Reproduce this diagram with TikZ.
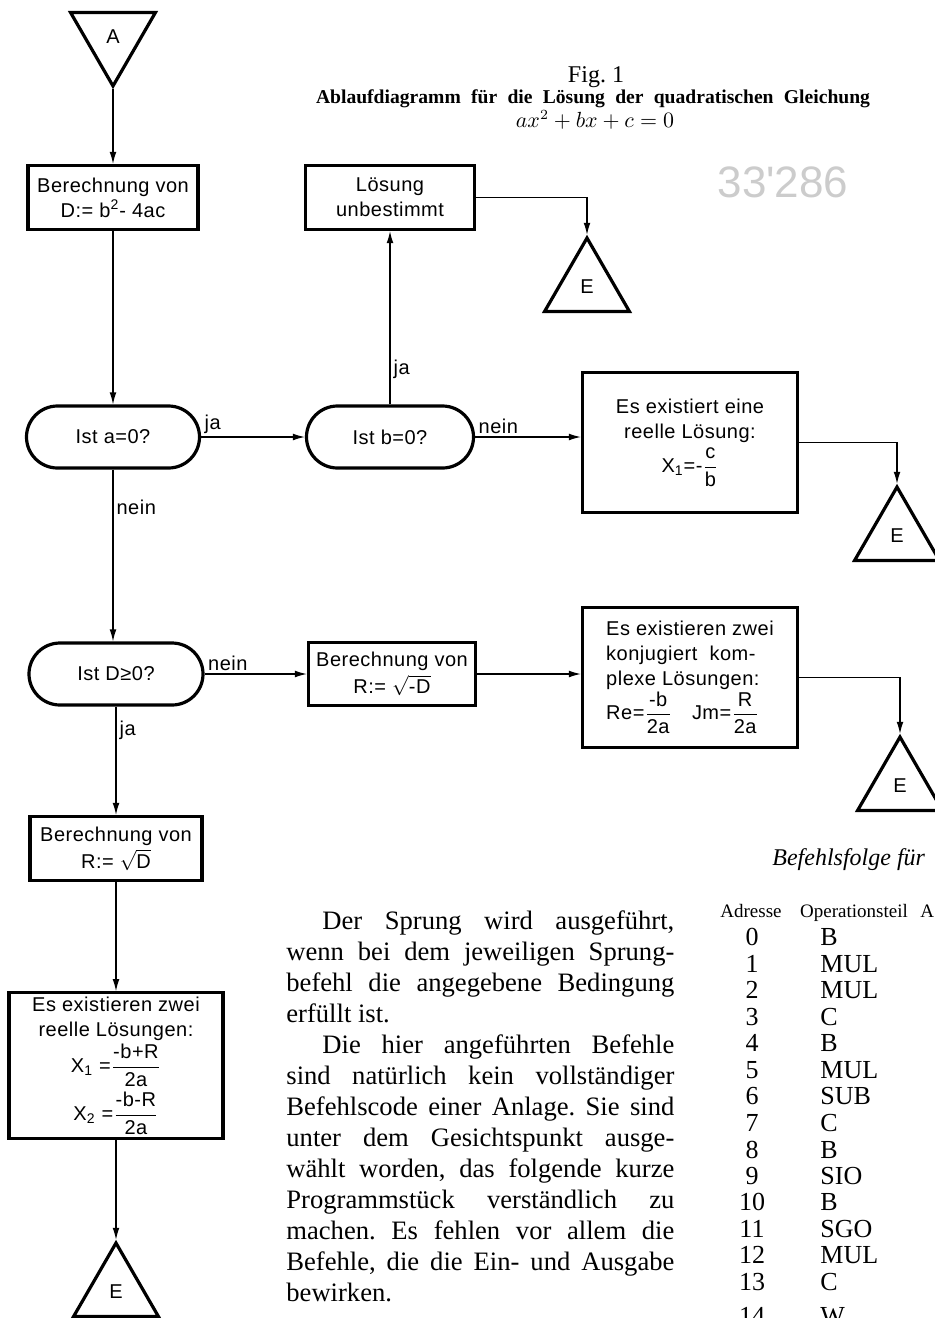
\documentclass[tikz,border=0pt]{standalone}
\usepackage{fontspec}
\setmainfont{Liberation Serif}
\newfontfamily\flowfont[LetterSpace=2.5]{Liberation Sans}
\newfontfamily\handfont{Liberation Sans}
\usetikzlibrary{positioning, arrows.meta, shapes.geometric}

\newcommand{\bruch}[2]{${\displaystyle\frac{\mbox{#1}}{\mbox{#2}}}$}
\frenchspacing

\begin{document}
\begin{tikzpicture}[
        x=0.5pt, y=-0.5pt,
        % --- STILE ---
        block/.style={
                draw,
                line width=1.6pt,
                align=center,
                inner sep=2pt,
                font=\flowfont\fontsize{10}{12.5}\selectfont
            },
        frage/.style={
                block,
                rounded corners=15.5pt,
                minimum height=31pt
            },
        ende/.style={
                draw,
                line width=1.6pt,
                regular polygon,
                regular polygon sides=3,
                minimum size=49pt,
                inner sep=0pt,
                font=\flowfont\fontsize{10}{12.5}\selectfont
            },
        flow/.style={
                -{Latex[length=6pt, width=3.4pt]},
                line width=0.6pt
            },
        lbl/.style={
                inner sep=1.5pt,
                font=\flowfont\fontsize{10}{12.5}\selectfont
            },
        tab/.style={
                inner sep=0pt,
                anchor=base,
                font=\fontsize{13}{13}\selectfont
            },
        tabkopf/.style={
                inner sep=0pt,
                anchor=base,
                font=\fontsize{9.5}{11}\selectfont
            }
    ]

    \path[use as bounding box, fill=white] (0,0) rectangle (935,1318);

    % 1. Titel
    \node[inner sep=0pt, anchor=base, font=\fontsize{12}{14}\selectfont] (fig) at (596,82) {Fig. 1};
    \node[inner sep=0pt, anchor=base, font=\bfseries\fontsize{9.8}{12}\selectfont] (titel) at (593,103)
        {\makebox[277pt][s]{Ablaufdiagramm für die Lösung der quadratischen Gleichung}};
    \node[inner sep=0pt, anchor=base, font=\fontsize{10.5}{12}\selectfont] (gleichung) at (595,127) {$ax^2+bx+c=0$};
    \node[inner sep=0pt, text=gray!40, font=\handfont\fontsize{22}{22}\selectfont] (nummer) at (783,182) {33'286};

    % 2. Linke Spalte
    \node[ende, shape border rotate=180] (a) at (113,37) {A};
    \node[block, minimum width=85pt, minimum height=32pt] (calcD) at (113,197.5)
        {Berechnung von\\ D:= b\textsuperscript{2}- 4ac};
    \node[frage, minimum width=86.5pt] (isa) at (113,437) {Ist a=0?};
    \node[frage, minimum width=87pt] (isd) at (116,674) {Ist D≥0?};
    \node[block, minimum width=86pt, minimum height=32pt] (calcR) at (116,848.5)
        {Berechnung von\\[1pt] R:= $\sqrt{\mbox{D}}$};
    \node[block, minimum width=107pt, minimum height=71pt] (reell2) at (116,1065.5)
        {Es existieren zwei\\ reelle Lösungen:\\[1pt]
         X\textsubscript{1} =\bruch{-b+R}{2a}\\[2pt]
         X\textsubscript{2} =\bruch{-b-R}{2a}};
    \node[ende] (e4) at (116,1292) {E};

    % 3. Mittlere Spalte
    \node[block, minimum width=84.5pt, minimum height=32pt] (loes) at (390,197.5)
        {Lösung\\ unbestimmt};
    \node[frage, minimum width=83.5pt] (isb) at (390,437) {Ist b=0?};
    \node[block, minimum width=83.5pt, minimum height=31.5pt] (calcRneg) at (392,674)
        {Berechnung von\\[1pt] R:= $\sqrt{\mbox{-D}}$};

    % 4. Rechte Spalte
    \node[block, minimum width=107.5pt, minimum height=70pt] (reell1) at (690,442.5)
        {Es existiert eine\\ reelle Lösung:\\[2pt] X\textsubscript{1}=-\bruch{c}{b}};
    \node[block, align=left, minimum width=107.5pt, minimum height=70pt] (konj) at (690,677.5)
        {Es existieren zwei\\ konjugiert \ kom-\\ plexe Lösungen:\\
         Re=\bruch{-b}{2a}\quad Jm=\bruch{R}{2a}};
    \node[ende] (e1) at (587,287) {E};
    \node[ende] (e2) at (897,536) {E};
    \node[ende] (e3) at (900,786) {E};

    % 5. Verbindungen
    \draw[flow] (a.corner 1) -- (calcD.north);
    \draw[flow] (calcD) -- (isa);
    \draw[flow] (isa) -- node[lbl, pos=0, anchor=south west] {ja} (isb);
    \draw[flow] (isb) -- node[lbl, pos=0.2, anchor=west] {ja} (loes);
    \draw[flow] (loes.east) -| (e1.corner 1);
    \draw[flow] (isb.east) -- node[lbl, pos=0, anchor=south west] {nein} (isb.east -| reell1.west);
    \draw[flow] (reell1.east) -| (e2.corner 1);
    \draw[flow] (isa.south) -- node[lbl, pos=0.22, anchor=west] {nein} (isa.south |- isd.north);
    \draw[flow] (isd) -- node[lbl, pos=0, anchor=south west] {nein} (calcRneg);
    \draw[flow] (calcRneg.east) -- (calcRneg.east -| konj.west);
    \draw[flow] (konj.east) -| (e3.corner 1);
    \draw[flow] (isd) -- node[lbl, pos=0.22, anchor=west] {ja} (calcR);
    \draw[flow] (calcR) -- (reell2);
    \draw[flow] (reell2.south) -- (e4.corner 1);

    % 6. Text
    \node[anchor=north west, inner sep=0pt, text width=194pt, align=justify,
          font=\fontsize{13.3}{15.5}\selectfont] (erklaerung) at (286,910)
        {\noindent\hspace*{18pt}Der Sprung wird ausgeführt,\linebreak
         wenn bei dem jeweiligen Sprung-\linebreak
         befehl die angegebene Bedingung\linebreak
         erfüllt ist.\par
         \noindent\hspace*{18pt}Die hier angeführten Befehle\linebreak
         sind natürlich kein vollständiger\linebreak
         Befehlscode einer Anlage. Sie sind\linebreak
         unter dem Gesichtspunkt ausge-\linebreak
         wählt worden, das folgende kurze\linebreak
         Programmstück verständlich zu\linebreak
         machen. Es fehlen vor allem die\linebreak
         Befehle, die die Ein- und Ausgabe\linebreak
         bewirken.};

    % 7. Befehlsfolge
    \node[anchor=west, inner sep=0pt, font=\itshape\fontsize{12}{14}\selectfont] (befehlsfolge) at (772,860)
        {Befehlsfolge für};
    \node[tabkopf] (kadr) at (751,917) {Adresse};
    \node[tabkopf] (kop) at (854,917) {Operationsteil};
    \node[tabkopf, anchor=base west] (kadt) at (920,917) {A};
    \foreach \n/\op/\y in {0/B/945,1/MUL/972,2/MUL/998,3/C/1025,4/B/1051,5/MUL/1078,6/SUB/1104,
                           7/C/1131,8/B/1158,9/SIO/1184,10/B/1210,11/SGO/1237,12/MUL/1263,13/C/1290,14/W/1324} {
        \node[tab] (adr\n) at (752,\y) {\n};
        \node[tab, anchor=base west] (op\n) at (820,\y) {\op};
    }

\end{tikzpicture}
\end{document}
